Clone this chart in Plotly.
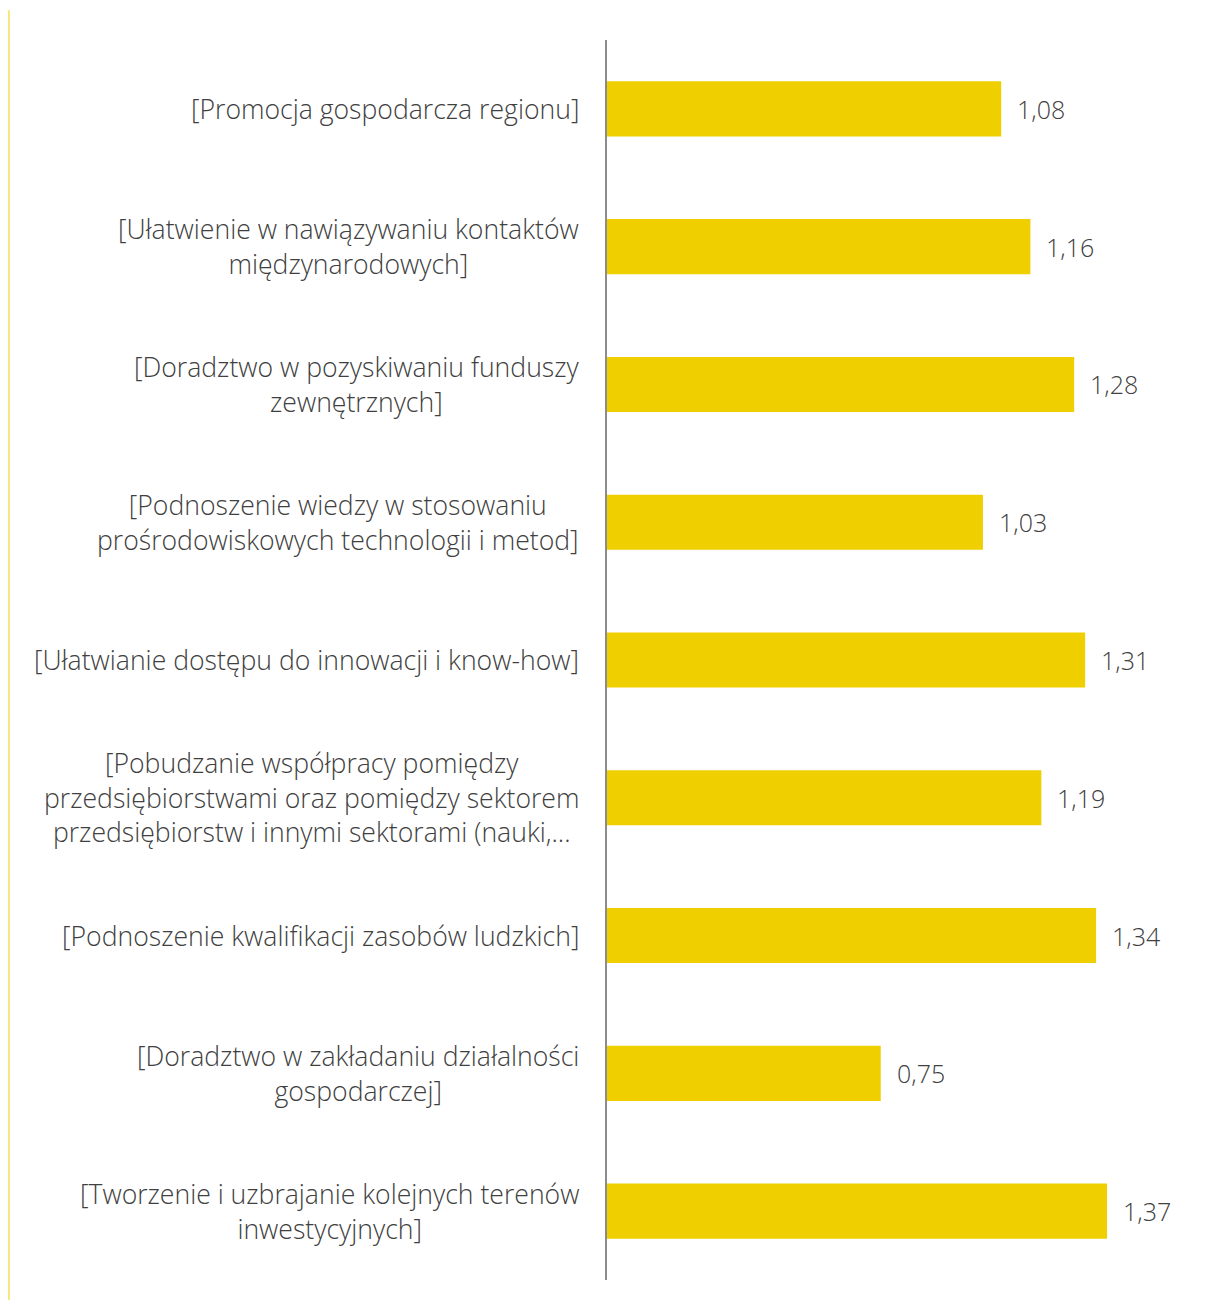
import plotly.graph_objects as go

categories = [
    "[Promocja gospodarcza regionu]",
    "[Ułatwienie w nawiązywaniu kontaktów<br>międzynarodowych]",
    "[Doradztwo w pozyskiwaniu funduszy<br>zewnętrznych]",
    "[Podnoszenie wiedzy w stosowaniu<br>prośrodowiskowych technologii i metod]",
    "[Ułatwianie dostępu do innowacji i know-how]",
    "[Pobudzanie współpracy pomiędzy<br>przedsiębiorstwami oraz pomiędzy sektorem<br>przedsiębiorstw i innymi sektorami (nauki,...",
    "[Podnoszenie kwalifikacji zasobów ludzkich]",
    "[Doradztwo w zakładaniu działalności<br>gospodarczej]",
    "[Tworzenie i uzbrajanie kolejnych terenów<br>inwestycyjnych]",
]
values = [1.08, 1.16, 1.28, 1.03, 1.31, 1.19, 1.34, 0.75, 1.37]
value_labels = [f"{v:.2f}".replace(".", ",") for v in values]

BAR = "#F0CF00"
TXT = "#404040"
FONT = "Open Sans"

fig = go.Figure(go.Bar(
    x=values, y=list(range(len(categories))), orientation="h",
    marker=dict(color=BAR, line=dict(width=0)),
    hoverinfo="skip",
))

ann = []
for i, (c, v, t) in enumerate(zip(categories, values, value_labels)):
    ann.append(dict(x=0, xref="x", y=i, yref="y", text=c, showarrow=False,
                    xanchor="right", yanchor="middle", align="center", xshift=-26,
                    font=dict(family=FONT, size=26.6, color=TXT, weight=300)))
    ann.append(dict(x=v, xref="x", y=i, yref="y", text=t, showarrow=False,
                    xanchor="left", yanchor="middle", xshift=14,
                    font=dict(family=FONT, size=25, color=TXT, weight=300)))

fig.update_layout(
    width=1201, height=1293,
    margin=dict(l=599, r=18, t=32, b=21),
    paper_bgcolor="white", plot_bgcolor="white",
    bargap=0.6, showlegend=False,
    xaxis=dict(range=[0, 1.6], showgrid=False, zeroline=False,
               showticklabels=False, ticks="", showline=False, fixedrange=True),
    yaxis=dict(range=[len(categories) - 0.5, -0.5], showgrid=False, zeroline=False,
               showticklabels=False, ticks="", showline=True, linecolor="#8C8C8C",
               linewidth=2, fixedrange=True),
    annotations=ann,
    shapes=[dict(type="line", xref="paper", yref="paper",
                 x0=-1.024, x1=-1.024, y0=1.024, y1=-0.016,
                 line=dict(color=BAR, width=1))],
)

fig.write_html("out.html")
